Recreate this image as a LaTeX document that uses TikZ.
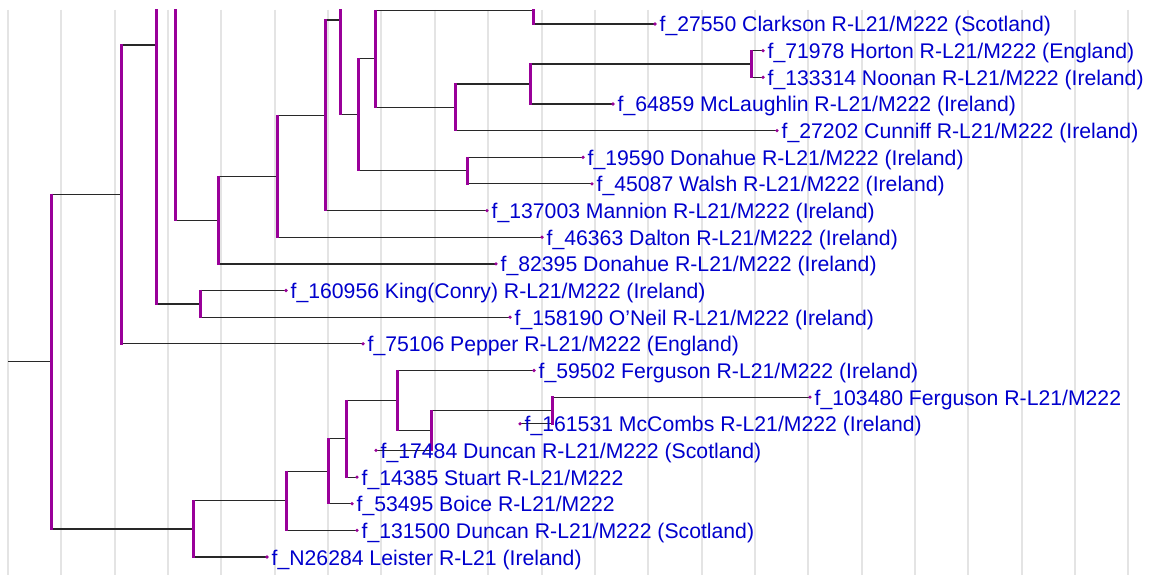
\documentclass[tikz,border=0pt]{standalone}
\usepackage{fontspec}
\setmainfont{Liberation Sans}
\definecolor{treepurple}{RGB}{153,0,153}
\definecolor{linegray}{RGB}{40,40,40}
\definecolor{gridgray}{RGB}{228,228,228}
\definecolor{labelblue}{RGB}{0,0,205}
\tikzset{
  hl/.style={draw=linegray,line width=1.2pt},
  vl/.style={draw=treepurple,line width=3pt,shorten <=-0.7pt,shorten >=-0.7pt},
  gridline/.style={draw=gridgray,line width=2pt},
  pdot/.style={fill=treepurple},
  lbl/.style={anchor=base west,inner sep=0pt,text=labelblue,font=\fontsize{21.2}{25}\selectfont}
}
\newcommand\myhor[2]{\draw[hl] (#1 |- #2) -- (#2);}
\newcommand\myvbar[3]{\draw[vl] (#1 |- #2) -- (#1 |- #3);}
\newcommand\myleaf[2]{\fill[pdot] (#1) circle (1.8pt); \node[lbl] (t#1) at ([xshift=4.5pt,yshift=-8pt]#1) {#2};}
\begin{document}
\begin{tikzpicture}[x=1pt,y=-1pt]
\useasboundingbox (0,0) rectangle (1149,575);
\fill[white] (0,0) rectangle (1149,575);
\foreach \k in {0,...,21} \draw[gridline] ({8+53.35*\k},10) -- ({8+53.35*\k},575);
% internal nodes
\coordinate (root) at (8,361.7);
\coordinate (A) at (51,361.7);
\coordinate (B) at (121,194.4);
\coordinate (C) at (156,45);
\coordinate (D) at (200,303.9);
\coordinate (E) at (175,-213.9);
\coordinate (Etop) at (230,-648);
\coordinate (F) at (218,220.1);
\coordinate (G) at (277,176.3);
\coordinate (H) at (325,115.3);
\coordinate (I) at (340,20);
\coordinate (Itop) at (360,-74.6);
\coordinate (J) at (358,114.6);
\coordinate (K) at (375,58.7);
\coordinate (M) at (533,10.5);
\coordinate (Mtop) at (560,-3);
\coordinate (N) at (455,107.3);
\coordinate (O) at (530,84);
\coordinate (Q) at (751,64);
\coordinate (L) at (467,170.6);
\coordinate (P) at (193,528.9);
\coordinate (R) at (286,500.8);
\coordinate (S) at (328,471.2);
\coordinate (T) at (346,438.8);
\coordinate (U) at (397,400.5);
\coordinate (V) at (431,430.5);
\coordinate (W) at (552,410.5);
% leaves
\coordinate (l1) at (655,24);
\coordinate (l2) at (763,50.7);
\coordinate (l3) at (763,77.3);
\coordinate (l4) at (613,104);
\coordinate (l5) at (777,130.6);
\coordinate (l6) at (583,157.3);
\coordinate (l7) at (592,183.9);
\coordinate (l8) at (487,210.6);
\coordinate (l9) at (542,237.2);
\coordinate (l10) at (496,263.9);
\coordinate (l11) at (286,290.5);
\coordinate (l12) at (510,317.2);
\coordinate (l13) at (363,343.8);
\coordinate (l14) at (534,370.5);
\coordinate (l15) at (810,397.1);
\coordinate (l16) at (520,423.8);
\coordinate (l17) at (376,450.4);
\coordinate (l18) at (357,477.1);
\coordinate (l19) at (352,503.7);
\coordinate (l20) at (357,530.4);
\coordinate (l21) at (267,557);
\begin{scope}
\clip (0,9.3) rectangle (1149,575);
\draw[hl] (root) -- (A);
\myhor{A}{B}\myhor{A}{P}
\myhor{B}{C}\myhor{B}{l13}
\myhor{C}{E}\myhor{C}{D}
\myhor{D}{l11}\myhor{D}{l12}
\myhor{E}{Etop}\myhor{E}{F}
\myhor{F}{G}\myhor{F}{l10}
\myhor{G}{H}\myhor{G}{l9}
\myhor{H}{I}\myhor{H}{l8}
\myhor{I}{Itop}\myhor{I}{J}
\myhor{J}{K}\myhor{J}{L}
\myhor{K}{M}\myhor{K}{N}
\myhor{M}{Mtop}\myhor{M}{l1}
\myhor{N}{O}\myhor{N}{l5}
\myhor{O}{Q}\myhor{O}{l4}
\myhor{Q}{l2}\myhor{Q}{l3}
\myhor{L}{l6}\myhor{L}{l7}
\myhor{P}{R}\myhor{P}{l21}
\myhor{R}{S}\myhor{R}{l20}
\myhor{S}{T}\myhor{S}{l19}
\myhor{T}{U}\myhor{T}{l18}
\myhor{U}{l14}\myhor{U}{V}
\myhor{V}{W}\myhor{V}{l17}
\myhor{W}{l15}\myhor{W}{l16}
\myvbar{A}{B}{P}
\myvbar{B}{C}{l13}
\myvbar{C}{E}{D}
\myvbar{D}{l11}{l12}
\myvbar{E}{Etop}{F}
\myvbar{F}{G}{l10}
\myvbar{G}{H}{l9}
\myvbar{H}{I}{l8}
\myvbar{I}{Itop}{J}
\myvbar{J}{K}{L}
\myvbar{K}{M}{N}
\myvbar{M}{Mtop}{l1}
\myvbar{N}{O}{l5}
\myvbar{O}{Q}{l4}
\myvbar{Q}{l2}{l3}
\myvbar{L}{l6}{l7}
\myvbar{P}{R}{l21}
\myvbar{R}{S}{l20}
\myvbar{S}{T}{l19}
\myvbar{T}{U}{l18}
\myvbar{U}{l14}{V}
\myvbar{V}{W}{l17}
\myvbar{W}{l15}{l16}
\end{scope}
\myleaf{l1}{f\_27550 Clarkson R-L21/M222 (Scotland)}
\myleaf{l2}{f\_71978 Horton R-L21/M222 (England)}
\myleaf{l3}{f\_133314 Noonan R-L21/M222 (Ireland)}
\myleaf{l4}{f\_64859 McLaughlin R-L21/M222 (Ireland)}
\myleaf{l5}{f\_27202 Cunniff R-L21/M222 (Ireland)}
\myleaf{l6}{f\_19590 Donahue R-L21/M222 (Ireland)}
\myleaf{l7}{f\_45087 Walsh R-L21/M222 (Ireland)}
\myleaf{l8}{f\_137003 Mannion R-L21/M222 (Ireland)}
\myleaf{l9}{f\_46363 Dalton R-L21/M222 (Ireland)}
\myleaf{l10}{f\_82395 Donahue R-L21/M222 (Ireland)}
\myleaf{l11}{f\_160956 King(Conry) R-L21/M222 (Ireland)}
\myleaf{l12}{f\_158190 O’Neil R-L21/M222 (Ireland)}
\myleaf{l13}{f\_75106 Pepper R-L21/M222 (England)}
\myleaf{l14}{f\_59502 Ferguson R-L21/M222 (Ireland)}
\myleaf{l15}{f\_103480 Ferguson R-L21/M222}
\myleaf{l16}{f\_161531 McCombs R-L21/M222 (Ireland)}
\myleaf{l17}{f\_17484 Duncan R-L21/M222 (Scotland)}
\myleaf{l18}{f\_14385 Stuart R-L21/M222}
\myleaf{l19}{f\_53495 Boice R-L21/M222}
\myleaf{l20}{f\_131500 Duncan R-L21/M222 (Scotland)}
\myleaf{l21}{f\_N26284 Leister R-L21 (Ireland)}
\end{tikzpicture}
\end{document}
